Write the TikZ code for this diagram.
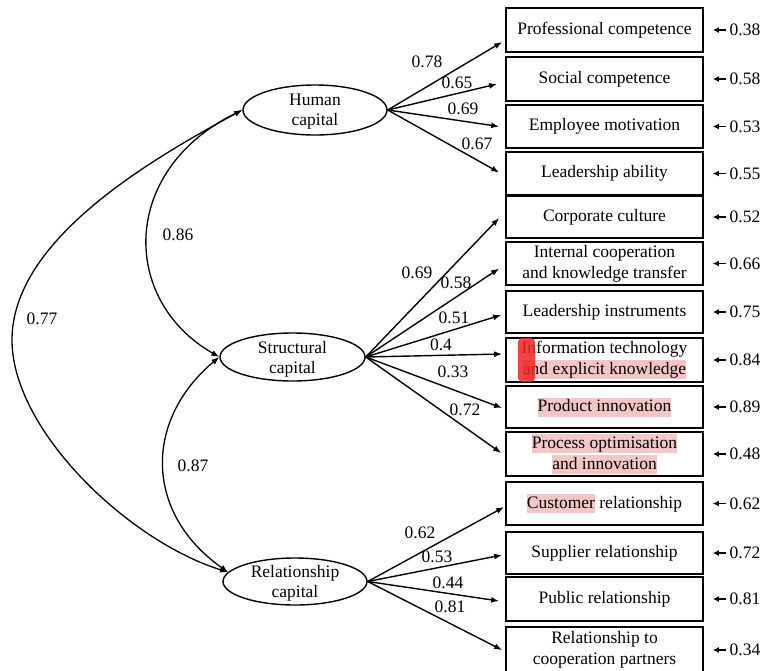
\documentclass[tikz,border=0pt]{standalone}
\usepackage{fontspec}
\setmainfont{Liberation Serif}
\usetikzlibrary{arrows.meta,calc,shapes.geometric}
\definecolor{hlpink}{RGB}{246,198,198}
\definecolor{markred}{RGB}{240,35,35}
\newcommand\hlt[1]{{\setlength{\fboxsep}{0pt}\colorbox{hlpink}{\rule[-5pt]{0pt}{19pt}#1}}}
\begin{document}
\begin{tikzpicture}[x=1pt,y=-1pt,
  font=\fontsize{17.5}{21}\selectfont,
  ind/.style={draw, line width=1.7pt, minimum width=197pt, minimum height=43pt, inner sep=0pt, align=center},
  lat/.style={ellipse, draw, line width=1.4pt, minimum width=144pt, minimum height=48pt, inner sep=0pt},
  lattext/.style={align=center, yshift=-2pt, font=\fontsize{17.5}{20}\selectfont},
  load/.style={-{Latex[length=8pt,width=6pt]}, line width=1.4pt},
  cov/.style={{Latex[length=8pt,width=6pt]}-{Latex[length=8pt,width=6pt]}, line width=1.3pt},
  err/.style={-{Latex[length=6pt,width=6pt]}, line width=1.6pt, shorten <=3.5pt, shorten >=9pt},
  num/.style={inner sep=0pt}]
\useasboundingbox (0,0) rectangle (762,670);

% latent variables
\node[lat, minimum height=50pt, label={[lattext]center:Human\\capital}] (hc) at (315,110) {};
\node[lat, minimum width=145pt, label={[lattext]center:Structural\\capital}] (sc) at (292.5,357) {};
\node[lat, minimum height=47pt, label={[lattext]center:Relationship\\capital}] (rc) at (295,581.5) {};

% indicators
\node[ind, minimum height=44pt] (b1) at (604.5,30) {Professional competence};
\node[ind, minimum height=44pt] (b2) at (604.5,79) {Social competence};
\node[ind] (b3) at (604.5,126.5) {Employee motivation};
\node[ind] (b4) at (604.5,173.5) {Leadership ability};
\node[ind, minimum height=42pt] (b5) at (604.5,217) {Corporate culture};
\node[ind] (b6) at (604.5,263.5) {Internal cooperation\\and knowledge transfer};
\node[ind, minimum height=42pt] (b7) at (604.5,312) {Leadership instruments};
\node[ind, minimum height=44pt] (b8) at (604.5,360) {Information technology\\\hlt{and explicit knowledge}};
\node[ind, minimum height=42pt] (b9) at (604.5,407) {\hlt{Product innovation}};
\node[ind, minimum height=44pt] (b10) at (604.5,454) {\hlt{Process optimisation}\\\hlt{and innovation}};
\node[ind] (b11) at (604.5,503.5) {\hlt{Customer} relationship};
\node[ind, minimum height=42pt] (b12) at (604.5,553) {Supplier relationship};
\node[ind, minimum height=44pt] (b13) at (604.5,599) {Public relationship};
\node[ind, minimum height=46pt] (b14) at (604.5,650) {Relationship to\\cooperation partners};

% red marker
\fill[markred, fill opacity=0.85, rounded corners=4pt] (518,338) rectangle (535,382);

% error terms
\node[num] (e1) at (745,30) {0.38};
\node[num] (e2) at (745,79) {0.58};
\node[num] (e3) at (745,126.5) {0.53};
\node[num] (e4) at (745,173.5) {0.55};
\node[num] (e5) at (745,217) {0.52};
\node[num] (e6) at (745,263.5) {0.66};
\node[num] (e7) at (745,312) {0.75};
\node[num] (e8) at (745,360) {0.84};
\node[num] (e9) at (745,407) {0.89};
\node[num] (e10) at (745,454) {0.48};
\node[num] (e11) at (745,503.5) {0.62};
\node[num] (e12) at (745,553) {0.72};
\node[num] (e13) at (745,599) {0.81};
\node[num] (e14) at (745,650) {0.34};
\foreach \i in {1,...,14} { \draw[err] (e\i) -- (b\i); }

% loadings
\draw[load] (hc.east) -- ($(b1.west)+(-3,12)$);
\draw[load] (hc.east) -- ($(b2.west)+(-8,5)$);
\draw[load] (hc.east) -- ($(b3.west)+(-6,0)$);
\draw[load] (hc.east) -- ($(b4.west)+(-6,-1)$);
\draw[load] (sc.east) -- ($(b5.west)+(-6,1)$);
\draw[load] (sc.east) -- ($(b6.west)+(-6,5)$);
\draw[load] (sc.east) -- ($(b7.west)+(-4,3)$);
\draw[load] (sc.east) -- ($(b8.west)+(-3,-6)$);
\draw[load] (sc.east) -- ($(b9.west)+(-3,1)$);
\draw[load] (sc.east) -- ($(b10.west)+(-4,-1)$);
\draw[load] (rc.east) -- ($(b11.west)+(-1,3.5)$);
\draw[load] (rc.east) -- ($(b12.west)+(-3,2)$);
\draw[load] (rc.east) -- ($(b13.west)+(-6,2)$);
\draw[load] (rc.east) -- ($(b14.west)+(-3,0)$);

\node[num] (l1) at (427,62) {0.78};
\node[num] (l2) at (457,83) {0.65};
\node[num] (l3) at (463,109) {0.69};
\node[num] (l4) at (477,144) {0.67};
\node[num] (l5) at (417,273) {0.69};
\node[num] (l6) at (456,283) {0.58};
\node[num] (l7) at (454,318) {0.51};
\node[num] (l8) at (441,345) {0.4};
\node[num] (l9) at (453,372) {0.33};
\node[num] (l10) at (465,410) {0.72};
\node[num] (l11) at (420,533) {0.62};
\node[num] (l12) at (437,557) {0.53};
\node[num] (l13) at (448,583) {0.44};
\node[num] (l14) at (450,607) {0.81};

% covariances
\coordinate (k77) at (12,340);
\draw[cov] (hc.west) .. controls (120,170) and (120,300) .. (sc.west);
\draw[cov] (sc.west) .. controls (144,420) and (144,513) .. (rc.172);
\draw[line width=1.3pt, {Latex[length=8pt,width=6pt]}-] (hc.west) .. controls (150,160) and (12,240) .. (k77);
\draw[line width=1.3pt, -{Latex[length=8pt,width=6pt]}] (k77) .. controls (12,430) and (128,541) .. (rc.172);
\node[num] (c86) at (178,235) {0.86};
\node[num] (c87) at (193,466) {0.87};
\node[num] (c77) at (42,319) {0.77};
\end{tikzpicture}
\end{document}
